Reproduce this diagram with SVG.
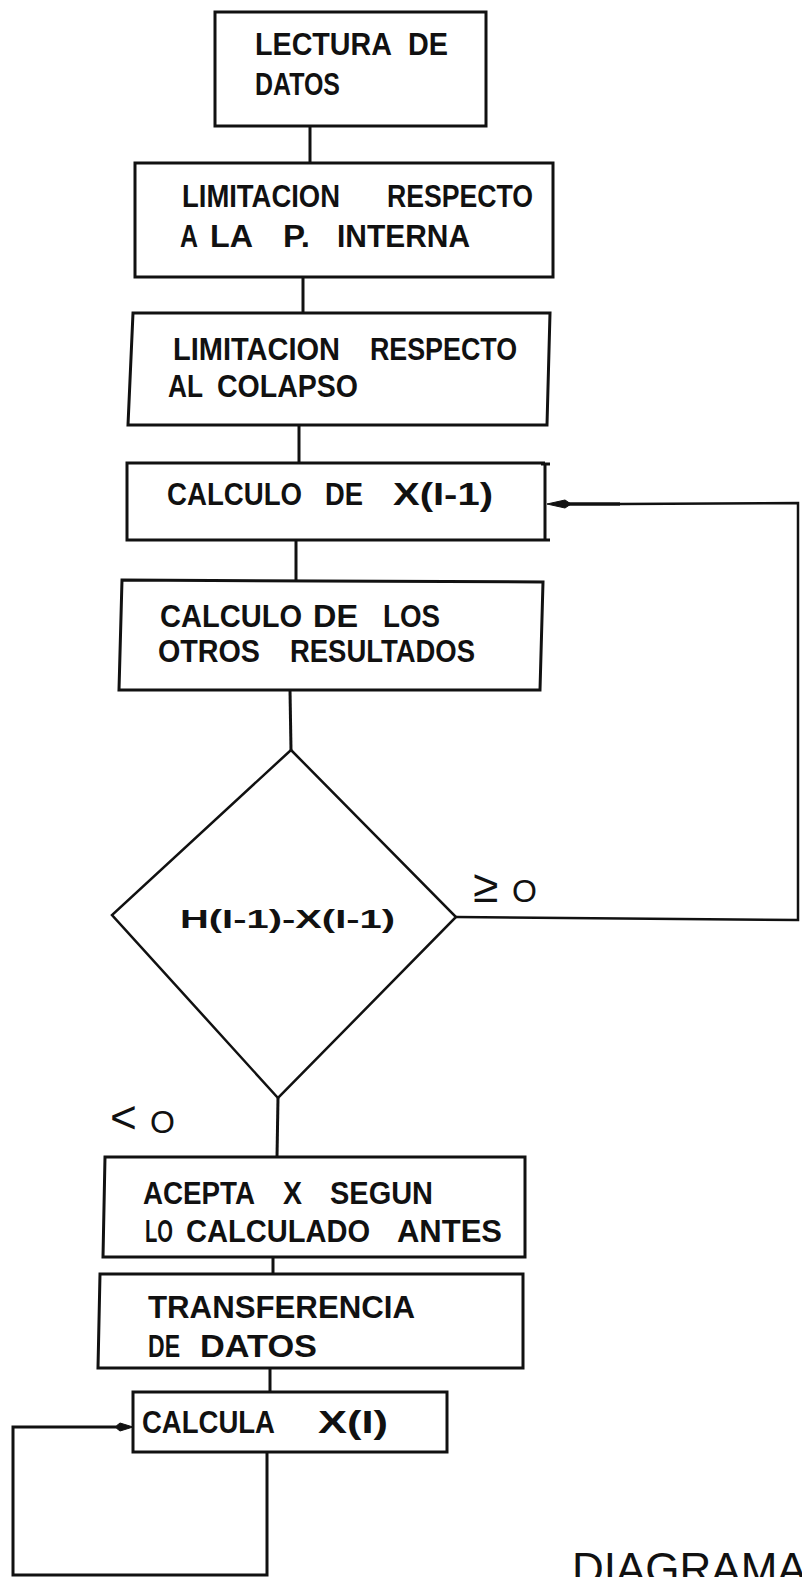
<svg xmlns="http://www.w3.org/2000/svg" width="802" height="1577" viewBox="0 0 802 1577">
<style>
.box{fill:none;stroke:#111;stroke-width:3;stroke-linejoin:miter}
.conn{fill:none;stroke:#111;stroke-width:3}
.thin{fill:none;stroke:#111;stroke-width:2.5}
.t{font-family:"Liberation Sans",Arial,sans-serif;font-weight:bold;font-size:31px;fill:#111}
.d{font-family:"Liberation Sans",Arial,sans-serif;font-weight:bold;font-size:25px;fill:#111}
.l{font-family:"Liberation Sans",Arial,sans-serif;font-weight:normal;fill:#111}
.head{fill:#111;stroke:#111;stroke-width:1}
</style>
<rect width="802" height="1577" fill="#fff"/>
<g id="connectors">
<line class="conn" x1="310" y1="126" x2="310" y2="163"/>
<line class="conn" x1="303" y1="277" x2="303" y2="313"/>
<line class="conn" x1="299" y1="425" x2="299" y2="463"/>
<line class="conn" x1="296" y1="540" x2="296" y2="581"/>
<line class="conn" x1="290" y1="690" x2="291" y2="750"/>
<line class="conn" x1="278" y1="1098" x2="277" y2="1157"/>
<line class="conn" x1="273" y1="1257" x2="273" y2="1274"/>
<line class="conn" x1="270" y1="1368" x2="270" y2="1392"/>
<polyline class="thin" points="456,917 798,920 798,503 620,504"/>
<line x1="620" y1="504" x2="568" y2="504" stroke="#111" stroke-width="3.5"/>
<polygon class="head" points="547,504 565,500 571,504 565,508"/>
<polyline class="conn" points="267,1452 267,1575 13,1575 13,1427 116,1427"/>
<polygon class="head" points="133,1427 120,1423 115,1427 120,1431"/>
</g>
<g id="n1">
<rect class="box" x="215" y="12" width="271" height="114"/>
<text class="t" x="255" y="55" textLength="137" lengthAdjust="spacingAndGlyphs">LECTURA</text>
<text class="t" x="408" y="55" textLength="40" lengthAdjust="spacingAndGlyphs">DE</text>
<text class="t" x="255" y="95" textLength="85" lengthAdjust="spacingAndGlyphs">DATOS</text>
</g>
<g id="n2">
<rect class="box" x="135" y="163" width="418" height="114"/>
<text class="t" x="182" y="207" textLength="158" lengthAdjust="spacingAndGlyphs">LIMITACION</text>
<text class="t" x="387" y="207" textLength="146" lengthAdjust="spacingAndGlyphs">RESPECTO</text>
<text class="t" x="180" y="247" textLength="18" lengthAdjust="spacingAndGlyphs">A</text>
<text class="t" x="210" y="247" textLength="43" lengthAdjust="spacingAndGlyphs">LA</text>
<text class="t" x="283" y="247" textLength="27" lengthAdjust="spacingAndGlyphs">P.</text>
<text class="t" x="337" y="247" textLength="133" lengthAdjust="spacingAndGlyphs">INTERNA</text>
</g>
<g id="n3">
<polygon class="box" points="133,313 550,313 547,425 128,425"/>
<text class="t" x="173" y="360" textLength="167" lengthAdjust="spacingAndGlyphs">LIMITACION</text>
<text class="t" x="370" y="360" textLength="147" lengthAdjust="spacingAndGlyphs">RESPECTO</text>
<text class="t" x="168" y="397" textLength="35" lengthAdjust="spacingAndGlyphs">AL</text>
<text class="t" x="217" y="397" textLength="141" lengthAdjust="spacingAndGlyphs">COLAPSO</text>
</g>
<g id="n4">
<polyline class="box" points="545,463 127,463 127,540 550,540"/>
<line class="conn" x1="545" y1="463" x2="545" y2="540"/>
<line class="conn" x1="541" y1="464" x2="550" y2="464"/>
<text class="t" x="167" y="505" textLength="135" lengthAdjust="spacingAndGlyphs">CALCULO</text>
<text class="t" x="325" y="505" textLength="38" lengthAdjust="spacingAndGlyphs">DE</text>
<text class="t" x="393" y="505" textLength="100" lengthAdjust="spacingAndGlyphs">X(I-1)</text>
</g>
<g id="n5">
<polygon class="box" points="122,580 543,582 540,690 119,690"/>
<text class="t" x="160" y="627" textLength="142" lengthAdjust="spacingAndGlyphs">CALCULO</text>
<text class="t" x="313" y="627" textLength="45" lengthAdjust="spacingAndGlyphs">DE</text>
<text class="t" x="383" y="627" textLength="57" lengthAdjust="spacingAndGlyphs">LOS</text>
<text class="t" x="158" y="662" textLength="102" lengthAdjust="spacingAndGlyphs">OTROS</text>
<text class="t" x="290" y="662" textLength="185" lengthAdjust="spacingAndGlyphs">RESULTADOS</text>
</g>
<g id="n6">
<polygon class="thin" points="291,750 456,917 278,1098 112,915"/>
<text class="d" x="180" y="928" textLength="215" lengthAdjust="spacingAndGlyphs">H(I-1)-X(I-1)</text>
</g>
<g id="labels">
<text class="l" x="473" y="902"><tspan font-size="46">≥</tspan><tspan x="512" font-size="32">O</tspan></text>
<text class="l" x="110" y="1133"><tspan font-size="46">&lt;</tspan><tspan x="150" font-size="32">O</tspan></text>
</g>
<g id="n7">
<polygon class="box" points="105,1157 525,1157 525,1257 103,1257"/>
<text class="t" x="143" y="1204" textLength="112" lengthAdjust="spacingAndGlyphs">ACEPTA</text>
<text class="t" x="283" y="1204" textLength="19" lengthAdjust="spacingAndGlyphs">X</text>
<text class="t" x="330" y="1204" textLength="103" lengthAdjust="spacingAndGlyphs">SEGUN</text>
<text class="t" x="145" y="1242" textLength="28" lengthAdjust="spacingAndGlyphs">LO</text>
<text class="t" x="186" y="1242" textLength="184" lengthAdjust="spacingAndGlyphs">CALCULADO</text>
<text class="t" x="397" y="1242" textLength="105" lengthAdjust="spacingAndGlyphs">ANTES</text>
</g>
<g id="n8">
<polygon class="box" points="100,1274 523,1274 523,1368 98,1368"/>
<text class="t" x="148" y="1318" textLength="267" lengthAdjust="spacingAndGlyphs">TRANSFERENCIA</text>
<text class="t" x="148" y="1357" textLength="32" lengthAdjust="spacingAndGlyphs">DE</text>
<text class="t" x="200" y="1357" textLength="117" lengthAdjust="spacingAndGlyphs">DATOS</text>
</g>
<g id="n9">
<rect class="box" x="133" y="1392" width="314" height="60"/>
<text class="t" x="142" y="1433" textLength="133" lengthAdjust="spacingAndGlyphs">CALCULA</text>
<text class="t" x="318" y="1433" textLength="70" lengthAdjust="spacingAndGlyphs">X(I)</text>
</g>
<g id="title">
<text class="l" x="572" y="1584" font-size="44">DIAGRAMA</text>
</g>
</svg>
